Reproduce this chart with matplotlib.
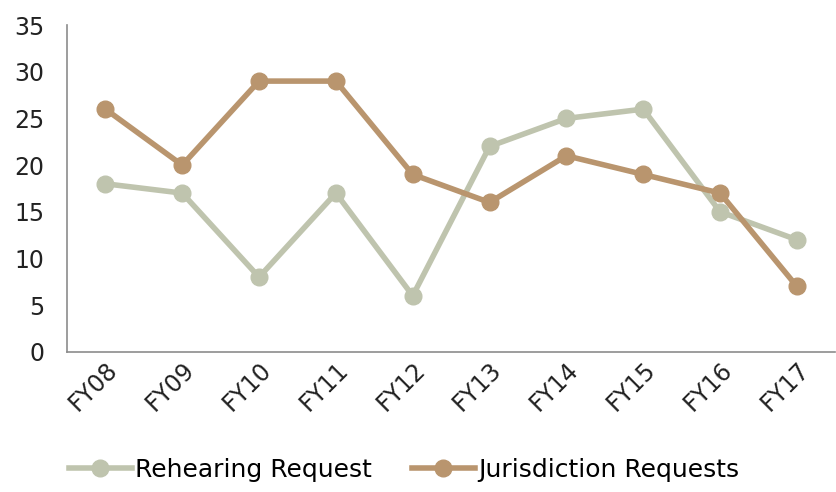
import matplotlib.pyplot as plt

years = ["FY08", "FY09", "FY10", "FY11", "FY12", "FY13", "FY14", "FY15", "FY16", "FY17"]
rehearing = [18, 17, 8, 17, 6, 22, 25, 26, 15, 12]
jurisdiction = [26, 20, 29, 29, 19, 16, 21, 19, 17, 7]

plt.rcParams['font.family'] = ['DejaVu Sans']

fig = plt.figure(figsize=(8.37, 4.92), dpi=100)
ax = fig.add_axes([0.08, 0.285, 0.918, 0.664])

ax.plot(years, rehearing, color="#BFC4AE", lw=4, marker="o", markersize=12,
        label="Rehearing Request")
ax.plot(years, jurisdiction, color="#B9956E", lw=4, marker="o", markersize=12,
        label="Jurisdiction Requests")

ax.set_ylim(0, 35)
ax.set_xlim(-0.5, len(years) - 0.5)
ax.set_yticks(range(0, 36, 5))
for s in ["top", "right"]:
    ax.spines[s].set_visible(False)
for s in ["left", "bottom"]:
    ax.spines[s].set_color("#8c8c8c")
    ax.spines[s].set_linewidth(1.2)
ax.tick_params(axis="y", length=0, labelsize=17, colors="#222222", pad=16)
ax.tick_params(axis="x", length=0, labelsize=17, colors="#222222", pad=4)
plt.setp(ax.get_xticklabels(), rotation=45, ha="right", rotation_mode="anchor")

fig.legend(loc="center", bbox_to_anchor=(0.483, 0.045), ncol=2, frameon=False,
           fontsize=18, handlelength=2.5, columnspacing=1.6, handletextpad=0.15)

plt.savefig("out.png")
